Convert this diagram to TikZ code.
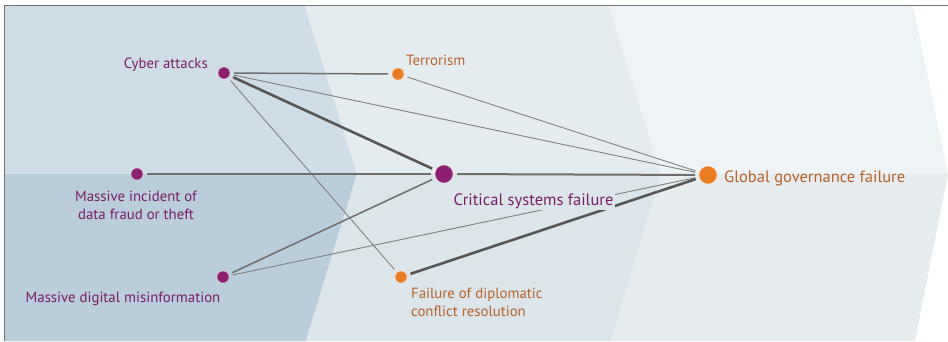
\documentclass[tikz,border=0pt]{standalone}
\usepackage{fontspec}
\setsansfont{PT Sans}
\renewcommand{\familydefault}{\sfdefault}

\definecolor{riskpurple}{HTML}{8C1F70}
\definecolor{riskorange}{HTML}{EA7D24}
\definecolor{textpurple}{HTML}{7A1F63}
\definecolor{textorange}{HTML}{B8622A}
\definecolor{bandAup}{HTML}{CFDDE6}
\definecolor{bandAlo}{HTML}{B9CDDA}
\definecolor{bandBup}{HTML}{E4ECF0}
\definecolor{bandBlo}{HTML}{DBE5EA}
\definecolor{bandCup}{HTML}{EEF3F6}
\definecolor{bandClo}{HTML}{E7ECEF}

\begin{document}
\begin{tikzpicture}[x=1pt,y=-1pt]
  \tikzstyle{risk}=[circle,fill=riskpurple,draw=white,draw opacity=0.4,line width=0.8pt,minimum size=12pt,inner sep=0pt,outer sep=4pt]
  \tikzstyle{bigrisk}=[risk,minimum size=18pt]
  \tikzstyle{tag}=[inner sep=0pt,text=textpurple,font=\fontsize{14.8}{17.5}\selectfont]
  \tikzstyle{bigtag}=[tag,font=\fontsize{16.5}{18}\selectfont]
  \tikzstyle{link}=[draw=black!50,line width=0.9pt]
  \tikzstyle{midlink}=[draw=black!57,line width=1.5pt]
  \tikzstyle{heavylink}=[draw=black!66,line width=2.6pt]

  \useasboundingbox (0,0) rectangle (948,341);

  % three chevron bands, each split at the middle line
  \fill[bandAup] (5,6) -- (305,6) -- (357,174) -- (5,174) -- cycle;
  \fill[bandAlo] (5,174) -- (357,174) -- (306,341) -- (5,341) -- cycle;
  \fill[bandBup] (305,6) -- (609,6) -- (661,174) -- (357,174) -- cycle;
  \fill[bandBlo] (357,174) -- (661,174) -- (611,341) -- (306,341) -- cycle;
  \fill[bandCup] (609,6) -- (913,6) -- (948,174) -- (661,174) -- cycle;
  \fill[bandClo] (661,174) -- (948,174) -- (915,341) -- (611,341) -- cycle;

  % frame
  \draw[black!55,line width=1.4pt] (4.7,341) -- (4.7,5.5) -- (948,5.5);

  % risks
  \node[risk] (cyber) at (224,73) {};
  \node[risk] (fraud) at (137,174) {};
  \node[risk] (misinfo) at (223,277) {};
  \node[risk,fill=riskorange] (terror) at (398,74) {};
  \node[risk,fill=riskorange] (diplo) at (401,277) {};
  \node[bigrisk] (critical) at (444,174) {};
  \node[bigrisk,fill=riskorange] (gov) at (708,175) {};

  % interconnections
  \foreach \f/\t in {cyber/gov,cyber/diplo,terror/gov,misinfo/gov}
    \path[link] (\f) -- (\t);
  \foreach \f/\t in {cyber/terror,fraud/critical,misinfo/critical}
    \path[midlink] (\f) -- (\t);
  \path[midlink,line width=2pt] (critical) -- (gov);
  \foreach \f/\t in {cyber/critical,diplo/gov}
    \path[heavylink] (\f) -- (\t);

  % labels (base of a two-line label is its last line)
  \node[tag,anchor=base east] (cyberL) at (208,68) {Cyber attacks};
  \node[tag,anchor=base,align=center] (fraudL) at (136,219) {Massive incident of\\data fraud or theft};
  \node[tag,anchor=base] (misinfoL) at (123,302) {Massive digital misinformation};
  \node[tag,anchor=base west,text=textorange] (terrorL) at (406,65) {Terrorism};
  \node[tag,anchor=base west,align=left,text=textorange] (diploL) at (411,316) {Failure of diplomatic\\conflict resolution};
  \node[bigtag,anchor=base west,fill=bandBlo,inner sep=1.5pt] (criticalL) at (452,205) {Critical systems failure};
  \node[bigtag,anchor=base west,text=textorange] (govL) at (724,182) {Global governance failure};
\end{tikzpicture}
\end{document}
